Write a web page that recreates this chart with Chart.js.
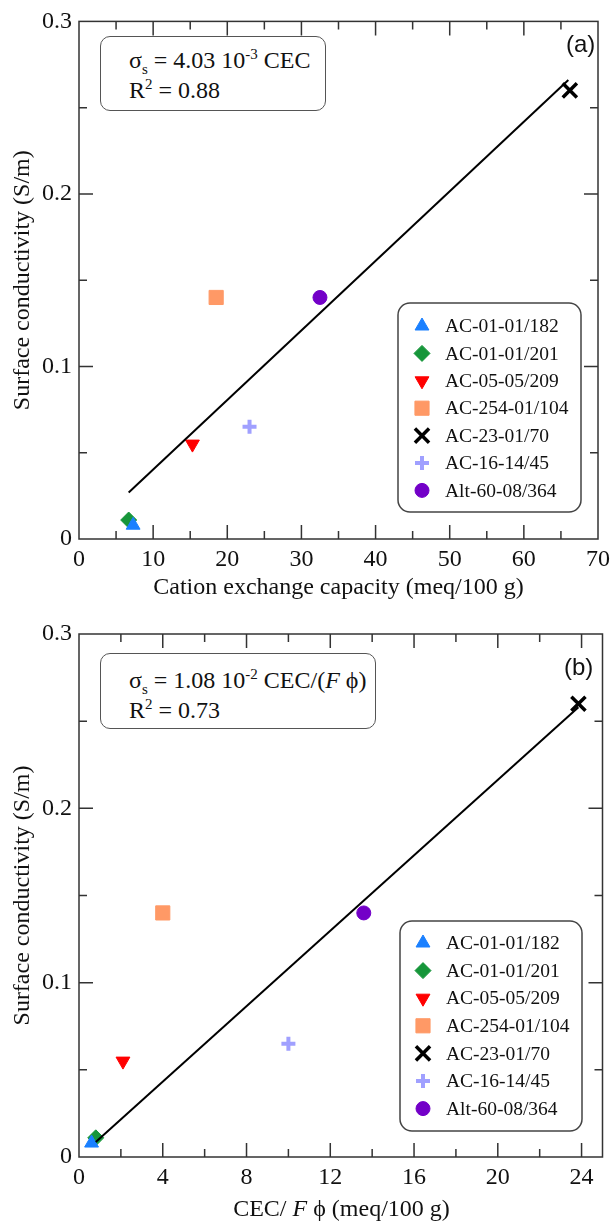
<!DOCTYPE html>
<html>
<head>
<meta charset="utf-8">
<script src="https://cdn.jsdelivr.net/npm/chart.js@4.4.0/dist/chart.umd.min.js"></script>
<style>
  body { margin: 0; background: #fff; }
  #page { position: relative; width: 616px; height: 1224px; font-family: "Liberation Serif", serif; color: #111; }
  .panel { position: absolute; left: 0; width: 616px; height: 612px; }
  .eq { position: absolute; border: 1.5px solid #555; border-radius: 10px; font-size: 24px; line-height: 30px;
        padding-left: 28px; box-sizing: border-box; background: #fff; white-space: nowrap; }
  .eq sub, .eq sup { font-size: 15px; line-height: 0; }
  .tag { position: absolute; font-family: "Liberation Sans", sans-serif; font-size: 24px; line-height: 28px; }
  .xtitle { position: absolute; text-align: center; font-size: 24px; line-height: 28px; }
</style>
</head>
<body>
<div id="page">
  <div class="panel" style="top:0"><canvas id="chart-a" width="616" height="612"></canvas></div>
  <div class="panel" style="top:612px"><canvas id="chart-b" width="616" height="612"></canvas></div>

  <div class="eq" style="left:100px; top:36px; width:226px; height:75px; padding-top:8px;">
    σ<sub>s</sub> = 4.03 10<sup>-3</sup> CEC<br>R<sup>2</sup> = 0.88
  </div>
  <div class="tag" style="left:566px; top:30px;">(a)</div>

  <div class="eq" style="left:100px; top:653px; width:276px; height:76px; padding-top:11px;">
    σ<sub>s</sub> = 1.08 10<sup>-2</sup> CEC/(<i>F</i> ϕ)<br>R<sup>2</sup> = 0.73
  </div>
  <div class="tag" style="left:564px; top:653px;">(b)</div>
  <div class="xtitle" style="left:79px; width:525px; top:1194px;">CEC/ <i>F</i> ϕ (meq/100 g)</div>
</div>

<script>
// samples and their symbols
const samples = ['AC-01-01/182', 'AC-01-01/201', 'AC-05-05/209', 'AC-254-01/104', 'AC-23-01/70', 'AC-16-14/45', 'Alt-60-08/364'];
const colors = ['#1a80ff', '#16963a', '#ff0000', '#ff9966', '#000000', '#a0a0ff', '#7300c8'];
const shapes = ['triangle', 'rectRot', 'triangle', 'rect', 'crossRot', 'cross', 'circle'];
const rotations = [0, 0, 180, 0, 0, 0, 0];
const radii = [8, 8, 8, 10, 10, 7, 7];
const strokes = [1, 1, 1, 1, 3.5, 4, 1];

// values
const cec = [7.3, 6.7, 15.3, 18.5, 66.2, 23.0, 32.5];          // meq/100 g
const cecPerFphi = [0.6, 0.8, 2.1, 4.0, 23.85, 10.0, 13.6];
const sigmaS = [0.008, 0.011, 0.055, 0.14, 0.26, 0.065, 0.14];   // S/m

// regression line ends
const fitA_x = [6.7, 66];
const fitA_y = [0.027, 0.266];
const fitB_x = [0.8, 23.85];
const fitB_y = [0.0086, 0.258];

const serif = 'Liberation Serif';

function buildDatasets(xs, fitX, fitY) {
    const sets = [{
        label: 'fit',
        data: fitX.map((v, i) => ({ x: v, y: fitY[i] })),
        showLine: true,
        borderColor: '#000',
        borderWidth: 2,
        pointRadius: 0
    }];
    samples.forEach((name, i) => {
        sets.push({
            label: name,
            data: [{ x: xs[i], y: sigmaS[i] }],
            pointStyle: shapes[i],
            rotation: rotations[i],
            pointRadius: radii[i],
            backgroundColor: colors[i],
            borderColor: colors[i],
            borderWidth: strokes[i]
        });
    });
    return sets;
}

// frame with inward ticks on all four sides, plus the boxed legend
const framePlugin = {
    id: 'frame',
    afterDraw(chart, args, opts) {
        const { ctx, chartArea: a, scales: { x, y } } = chart;
        ctx.save();
        ctx.strokeStyle = '#333';
        ctx.lineWidth = 1.5;
        ctx.strokeRect(a.left, a.top, a.right - a.left, a.bottom - a.top);

        const isMajor = (v, step) => Math.abs(v / step - Math.round(v / step)) < 1e-6;
        ctx.beginPath();
        for (let v = x.min + opts.minorX; v < x.max - 1e-9; v += opts.minorX) {
            const px = x.getPixelForValue(v);
            const len = isMajor(v, opts.majorX) ? 14 : 8;
            ctx.moveTo(px, a.bottom); ctx.lineTo(px, a.bottom - len);
            ctx.moveTo(px, a.top); ctx.lineTo(px, a.top + len);
        }
        for (let v = y.min + opts.minorY; v < y.max - 1e-9; v += opts.minorY) {
            const py = y.getPixelForValue(v);
            const len = isMajor(v, opts.majorY) ? 14 : 8;
            ctx.moveTo(a.left, py); ctx.lineTo(a.left + len, py);
            ctx.moveTo(a.right, py); ctx.lineTo(a.right - len, py);
        }
        ctx.stroke();

        // legend
        const L = opts.legend;
        ctx.beginPath();
        ctx.roundRect(L.left, L.top, L.width, L.height, 12);
        ctx.fillStyle = '#fff';
        ctx.fill();
        ctx.strokeStyle = '#444';
        ctx.lineWidth = 1.5;
        ctx.stroke();
        ctx.font = '19.5px "' + serif + '"';
        ctx.textBaseline = 'middle';
        samples.forEach((name, i) => {
            const ry = L.firstRow + i * L.rowGap;
            ctx.fillStyle = colors[i];
            ctx.strokeStyle = colors[i];
            ctx.lineWidth = strokes[i];
            Chart.helpers.drawPoint(ctx, {
                pointStyle: shapes[i], rotation: rotations[i], radius: radii[i], borderWidth: strokes[i]
            }, L.symbolX, ry);
            ctx.fillStyle = '#111';
            ctx.fillText(name, L.textX, ry + 1);
        });
        ctx.restore();
    }
};

function makeChart(id, xs, fitX, fitY, xMax, xStep, xMinor, xTitle, xTitlePad, xAxisHeight, padTop, legend) {
    return new Chart(document.getElementById(id), {
        type: 'scatter',
        data: { datasets: buildDatasets(xs, fitX, fitY) },
        options: {
            responsive: false,
            animation: false,
            events: [],
            layout: { padding: { top: padTop, right: 12, left: 0, bottom: 0 } },
            plugins: {
                legend: { display: false },
                tooltip: { enabled: false },
                frame: { majorX: xStep, minorX: xMinor, majorY: 0.1, minorY: 0.05, legend: legend }
            },
            scales: {
                x: {
                    type: 'linear', min: 0, max: xMax,
                    grid: { display: false, drawTicks: false },
                    border: { display: false },
                    ticks: {
                        stepSize: xStep, includeBounds: false, padding: 6, maxRotation: 0,
                        color: '#111', font: { family: serif, size: 24 },
                        callback: v => (Math.abs(v / xStep - Math.round(v / xStep)) < 1e-6 ? String(v) : '')
                    },
                    title: {
                        display: !!xTitle, text: xTitle, color: '#111',
                        font: { family: serif, size: 24 }, padding: { top: 0, bottom: xTitlePad }
                    },
                    afterFit(s) { s.height = xAxisHeight; }
                },
                y: {
                    type: 'linear', min: 0, max: 0.3,
                    grid: { display: false, drawTicks: false },
                    border: { display: false },
                    ticks: {
                        stepSize: 0.1, padding: 7,
                        color: '#111', font: { family: serif, size: 24 },
                        callback: v => (v === 0 ? '0' : v.toFixed(1))
                    },
                    title: {
                        display: true, text: 'Surface conductivity (S/m)', color: '#111',
                        font: { family: serif, size: 24 }, padding: { top: 8, bottom: 0 }
                    },
                    afterFit(s) { s.width = 79; }
                }
            }
        },
        plugins: [framePlugin]
    });
}

makeChart('chart-a', cec, fitA_x, fitA_y, 70, 10, 5, 'Cation exchange capacity (meq/100 g)', 10, 73, 18,
    { left: 398, top: 303, width: 183, height: 209, symbolX: 422, textX: 445, firstRow: 326, rowGap: 27.4 });

makeChart('chart-b', cecPerFphi, fitB_x, fitB_y, 25, 4, 2, '', 0, 67, 22,
    { left: 400, top: 309, width: 182, height: 210, symbolX: 423, textX: 446, firstRow: 331, rowGap: 27.6 });
</script>
</body>
</html>
